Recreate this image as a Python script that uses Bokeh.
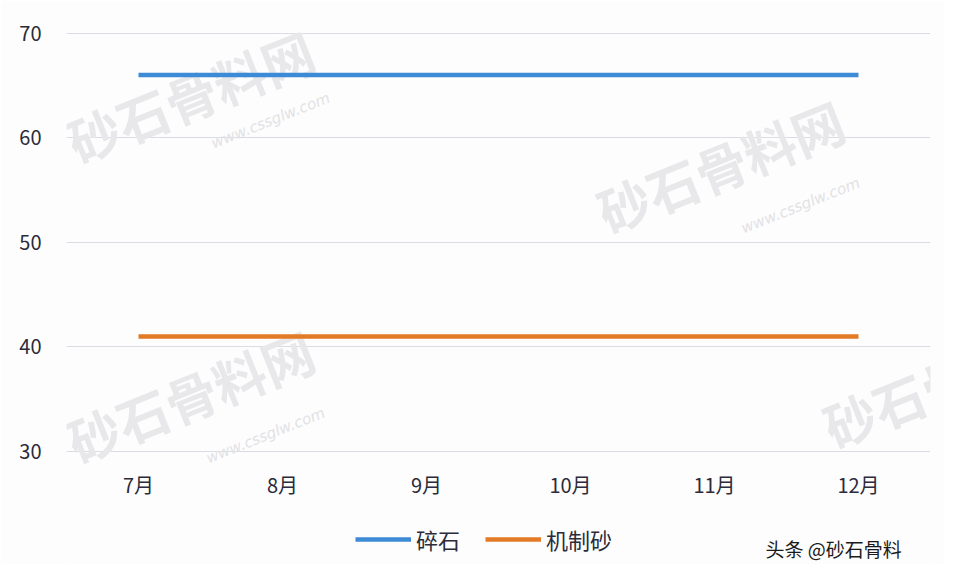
from bokeh.plotting import figure
from bokeh.models import Range1d, Legend, LegendItem, Label
from bokeh.embed import file_html
from bokeh.resources import INLINE

months = ["7月", "8月", "9月", "10月", "11月", "12月"]
gravel = [66, 66, 66, 66, 66, 66]
sand = [41, 41, 41, 41, 41, 41]
series_names = ["碎石", "机制砂"]
y_ticks = [30, 40, 50, 60, 70]
source_note = "头条 @砂石骨料"

FONT = "Noto Sans CJK SC"

# frame spans page y 32..564; 30 sits at y=451, 70 at y=32
p = figure(width=944, height=564, x_range=months, y_range=Range1d(19.21, 70.05),
           output_backend="svg", toolbar_location=None,
           min_border_left=66, min_border_right=14, min_border_top=32, min_border_bottom=0)
p.outline_line_color = None
p.background_fill_color = "#fdfdfe"
p.border_fill_color = "#fdfdfe"

# watermarks (frame-relative screen coords)
for x, y in [(124, 469), (654, 399), (124, 169), (880, 184)]:
    p.add_layout(Label(x=x, y=y, x_units="screen", y_units="screen", text="砂石骨料网",
                       text_font=FONT, text_font_size="52px", text_font_style="bold",
                       text_color="#e8e8ea", angle=0.38, text_align="center",
                       text_baseline="middle", level="underlay"))
for x, y in [(204, 444), (734, 359), (199, 129)]:
    p.add_layout(Label(x=x, y=y, x_units="screen", y_units="screen", text="www.cssglw.com",
                       text_font="DejaVu Sans", text_font_size="15px", text_font_style="italic",
                       text_color="#e2e2e4", angle=0.38, text_align="center",
                       text_baseline="middle", level="underlay"))

r1 = p.line(months, gravel, line_color="#3d8ad6", line_width=4.5)
r2 = p.line(months, sand, line_color="#e27a26", line_width=4.5)

p.xgrid.grid_line_color = None
p.ygrid.grid_line_color = "#d9dde3"
p.ygrid.grid_line_width = 1
p.yaxis.ticker = y_ticks
for ax in (p.xaxis[0], p.yaxis[0]):
    ax.axis_line_color = None
    ax.major_tick_line_color = None
    ax.minor_tick_line_color = None
    ax.major_label_text_font = FONT
    ax.major_label_text_font_size = "20px"
    ax.major_label_text_color = "#2b2b3a"
p.yaxis.major_label_standoff = 19
p.xaxis.fixed_location = 30
p.xaxis.major_label_standoff = 12

legend = Legend(items=[LegendItem(label=series_names[0], renderers=[r1]),
                       LegendItem(label=series_names[1], renderers=[r2])],
                orientation="horizontal", location=(289, 9),
                label_text_font=FONT, label_text_font_size="22px", label_text_color="#2b2b3a",
                glyph_width=56, glyph_height=20, label_height=20, spacing=25, label_standoff=5,
                border_line_color=None, background_fill_alpha=0, margin=0, padding=0)
p.add_layout(legend, "center")

p.add_layout(Label(x=699, y=16, x_units="screen", y_units="screen", text=source_note,
                   text_font=FONT, text_font_size="19px", text_color="#1a1a1a",
                   text_baseline="middle"))

open("out.html", "w").write(file_html(p, INLINE))
